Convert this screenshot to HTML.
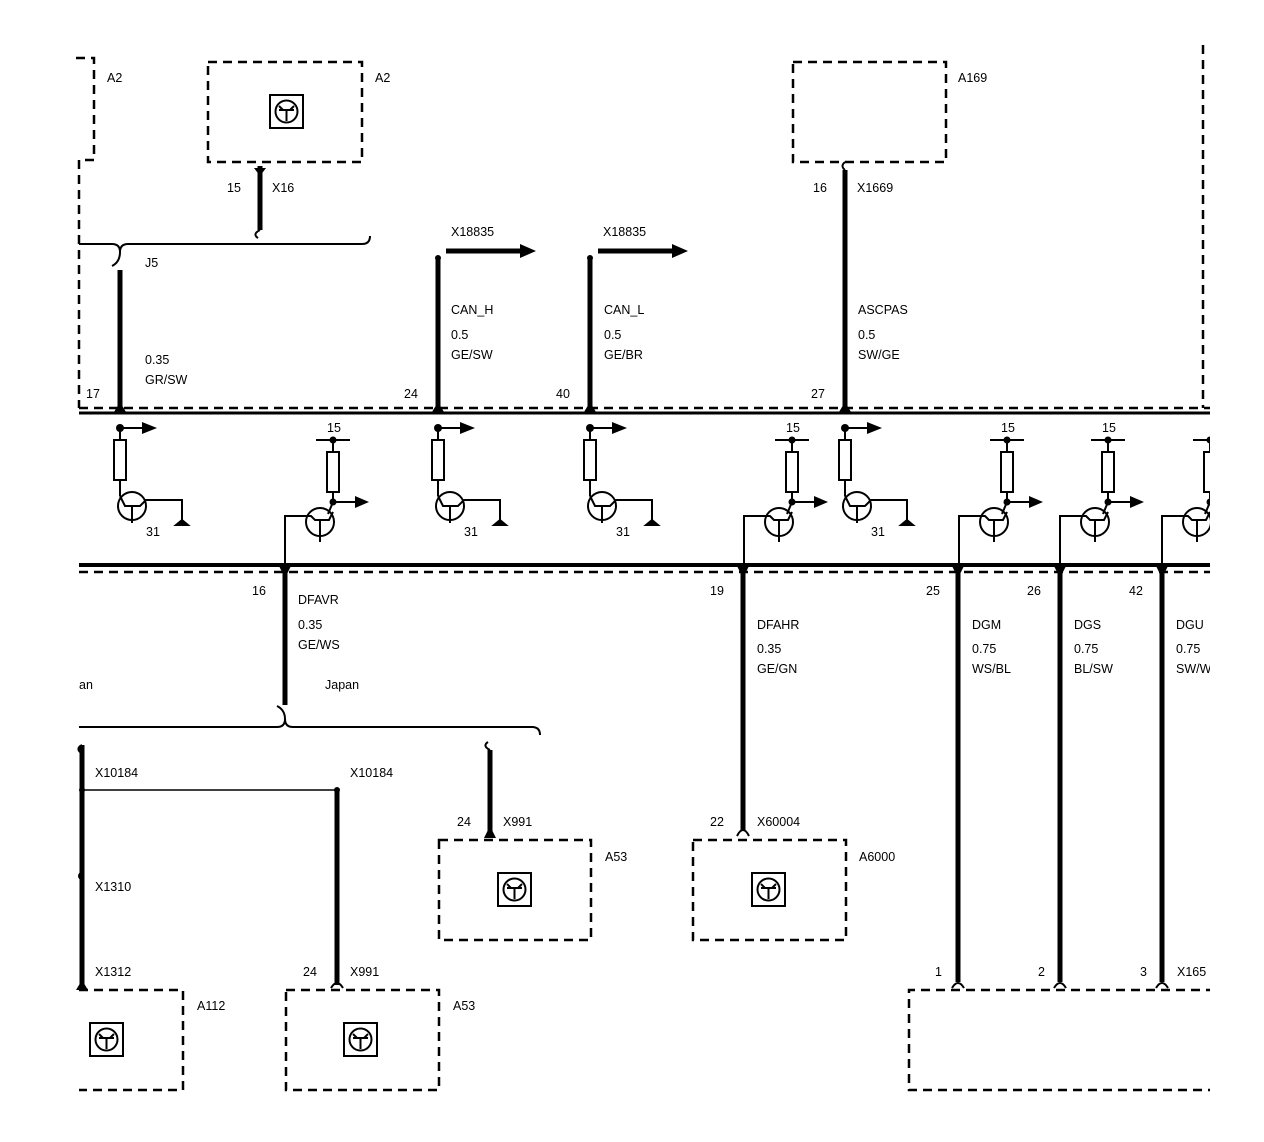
<!DOCTYPE html>
<html><head><style>
html,body{margin:0;padding:0;background:#fff;}
svg{display:block;}
text{font-family:"Liberation Sans",sans-serif;font-size:12.5px;fill:#000;}
</style></head><body>
<svg width="1264" height="1142" viewBox="0 0 1264 1142" xmlns="http://www.w3.org/2000/svg">
<defs>
<clipPath id="c"><rect x="0" y="0" width="1210" height="1142"/></clipPath>
<g id="icon">
<rect x="0" y="0" width="33" height="33" fill="none" stroke="#000" stroke-width="2"/>
<circle cx="16.5" cy="16.5" r="11" fill="none" stroke="#000" stroke-width="2"/>
<path d="M9 15 H24 M13 15 L9 11 M20 15 L24 11 M16.5 15 V26" stroke="#000" stroke-width="2" fill="none"/>
</g>
<g id="tA">
<circle cx="0" cy="0" r="4" fill="#000"/>
<path d="M0 0 H22" stroke="#000" stroke-width="2"/>
<path d="M22 -6 L37 0 L22 6 Z" fill="#000"/>
<path d="M0 0 V12" stroke="#000" stroke-width="2"/>
<rect x="-6" y="12" width="12" height="40" fill="none" stroke="#000" stroke-width="2"/>
<path d="M0 52 V68" stroke="#000" stroke-width="2"/>
<circle cx="12" cy="78" r="14" fill="none" stroke="#000" stroke-width="2"/>
<path d="M0 68 L5 78 H20 L26 72 H62 V96 M12 78 V95" stroke="#000" stroke-width="2" fill="none"/>
<path d="M56 97 H68 L62 92 Z" fill="#000" stroke="#000" stroke-width="2"/>
</g>
<g id="tB">
<path d="M-17 0 H17" stroke="#000" stroke-width="2"/>
<circle cx="0" cy="0" r="3.5" fill="#000"/>
<path d="M0 0 V12" stroke="#000" stroke-width="2"/>
<rect x="-6" y="12" width="12" height="40" fill="none" stroke="#000" stroke-width="2"/>
<path d="M0 52 V62" stroke="#000" stroke-width="2"/>
<circle cx="0" cy="62" r="3.5" fill="#000"/>
<path d="M0 62 H22" stroke="#000" stroke-width="2"/>
<path d="M22 56 L36 62 L22 68 Z" fill="#000"/>
<path d="M0 62 L-5 74" stroke="#000" stroke-width="2"/>
<circle cx="-13" cy="82" r="14" fill="none" stroke="#000" stroke-width="2"/>
<path d="M-48 133 V76 H-22 L-18 80 H-4 L0 72 M-13 80 V102" stroke="#000" stroke-width="2" fill="none"/>
</g>
</defs>
<g clip-path="url(#c)" stroke-linecap="butt">
<g fill="none" stroke="#000" stroke-width="2.5" stroke-dasharray="9,6">
<path d="M76 58 H94 V160 H79 V408"/>
<rect x="208" y="62" width="154" height="100"/>
<rect x="793" y="62" width="153" height="100"/>
<path d="M1203 45 V408"/>
<path d="M79 408 H1210"/>
<path d="M79 572 H1210"/>
<rect x="439" y="840" width="152" height="100"/>
<rect x="693" y="840" width="153" height="100"/>
<path d="M79 990 H183 V1090 H79"/>
<rect x="286" y="990" width="153" height="100"/>
<path d="M1215 990 H909 V1090 H1215"/>
</g>
<path d="M79 413 H1210" stroke="#000" stroke-width="3"/>
<path d="M79 565 H1210" stroke="#000" stroke-width="4"/>
<use href="#icon" x="270" y="95"/>
<use href="#icon" x="498" y="873"/>
<use href="#icon" x="752" y="873"/>
<use href="#icon" x="90" y="1023"/>
<use href="#icon" x="344" y="1023"/>
<g stroke="#000" stroke-width="5" fill="none">
<path d="M260 166 V230"/>
<path d="M120 270 V406"/>
<path d="M845 170 V406"/>
<path d="M438 258 V406"/>
<path d="M590 258 V406"/>
<path d="M285 572 V705"/>
<path d="M743 572 V830"/>
<path d="M958 572 V982"/>
<path d="M1060 572 V982"/>
<path d="M1162 572 V982"/>
<path d="M82 745 V985"/>
<path d="M337 790 V985"/>
<path d="M490 750 V835"/>
<path d="M446 251 H522"/>
<path d="M598 251 H674"/>
</g>
<path d="M520 244 L536 251 L520 258 Z M672 244 L688 251 L672 258 Z" fill="#000"/>
<circle cx="438" cy="258" r="3" fill="#000"/><circle cx="590" cy="258" r="3" fill="#000"/>
<circle cx="82" cy="790" r="3" fill="#000"/><circle cx="337" cy="790" r="3" fill="#000"/>
<path d="M82 790 H337" stroke="#000" stroke-width="1.5"/>
<g stroke="#000" stroke-width="2" fill="none">
<path d="M79 244 H112 Q120 244 120 252 Q120 262 112 266 M120 252 Q120 244 128 244 H362 Q370 244 370 236"/>
<path d="M260 230 Q252 234 258 238"/>
<path d="M79 727 H277 Q285 727 285 719 Q285 710 277 706 M285 719 Q285 727 293 727 H532 Q540 727 540 735"/>
<path d="M490 750 Q482 746 488 742"/>
<path d="M82 745 Q76 748 80 752"/>
<path d="M82 872 Q76 876 82 880"/>
<path d="M845 170 Q840 166 845 162"/>
</g>
<g fill="#000">
<path d="M114 412 L120 402 L126 412 Z"/>
<path d="M432 412 L438 402 L444 412 Z"/>
<path d="M584 412 L590 402 L596 412 Z"/>
<path d="M839 412 L845 402 L851 412 Z"/>
<path d="M279 566 L285 578 L291 566 Z"/>
<path d="M737 566 L743 578 L749 566 Z"/>
<path d="M952 566 L958 578 L964 566 Z"/>
<path d="M1054 566 L1060 578 L1066 566 Z"/>
<path d="M1156 566 L1162 578 L1168 566 Z"/>
<path d="M484 838 L490 826 L496 838 Z"/>
<path d="M76 990 L82 980 L88 990 Z"/>
<path d="M254 168 L260 176 L266 168 Z"/>
</g>
<g stroke="#000" stroke-width="2" fill="none">
<path d="M737 836 Q743 824 749 836"/>
<path d="M331 988 Q337 978 343 988"/>
<path d="M952 988 Q958 978 964 988"/>
<path d="M1054 988 Q1060 978 1066 988"/>
<path d="M1156 988 Q1162 978 1168 988"/>
</g>
<use href="#tA" x="120" y="428"/>
<use href="#tA" x="438" y="428"/>
<use href="#tA" x="590" y="428"/>
<use href="#tA" x="845" y="428"/>
<use href="#tB" x="333" y="440"/>
<use href="#tB" x="792" y="440"/>
<use href="#tB" x="1007" y="440"/>
<use href="#tB" x="1108" y="440"/>
<use href="#tB" x="1210" y="440"/>
<text x="107" y="82">A2</text>
<text x="375" y="82">A2</text>
<text x="958" y="82">A169</text>
<text x="227" y="192">15</text><text x="272" y="192">X16</text>
<text x="813" y="192">16</text><text x="857" y="192">X1669</text>
<text x="145" y="267">J5</text>
<text x="145" y="364">0.35</text><text x="145" y="384">GR/SW</text>
<text x="86" y="398">17</text><text x="404" y="398">24</text><text x="556" y="398">40</text><text x="811" y="398">27</text>
<text x="451" y="236">X18835</text><text x="603" y="236">X18835</text>
<text x="451" y="314">CAN_H</text><text x="451" y="339">0.5</text><text x="451" y="359">GE/SW</text>
<text x="604" y="314">CAN_L</text><text x="604" y="339">0.5</text><text x="604" y="359">GE/BR</text>
<text x="858" y="314">ASCPAS</text><text x="858" y="339">0.5</text><text x="858" y="359">SW/GE</text>
<text x="146" y="536">31</text><text x="464" y="536">31</text><text x="616" y="536">31</text><text x="871" y="536">31</text>
<text x="327" y="432">15</text><text x="786" y="432">15</text><text x="1001" y="432">15</text><text x="1102" y="432">15</text>
<text x="252" y="595">16</text><text x="298" y="604">DFAVR</text><text x="298" y="629">0.35</text><text x="298" y="649">GE/WS</text>
<text x="710" y="595">19</text><text x="757" y="629">DFAHR</text><text x="757" y="653">0.35</text><text x="757" y="673">GE/GN</text>
<text x="926" y="595">25</text><text x="972" y="629">DGM</text><text x="972" y="653">0.75</text><text x="972" y="673">WS/BL</text>
<text x="1027" y="595">26</text><text x="1074" y="629">DGS</text><text x="1074" y="653">0.75</text><text x="1074" y="673">BL/SW</text>
<text x="1129" y="595">42</text><text x="1176" y="629">DGU</text><text x="1176" y="653">0.75</text><text x="1176" y="673">SW/W</text>
<text x="79" y="689">an</text><text x="325" y="689">Japan</text>
<text x="95" y="777">X10184</text><text x="350" y="777">X10184</text>
<text x="457" y="826">24</text><text x="503" y="826">X991</text>
<text x="710" y="826">22</text><text x="757" y="826">X60004</text>
<text x="605" y="861">A53</text><text x="859" y="861">A6000</text>
<text x="95" y="891">X1310</text>
<text x="95" y="976">X1312</text><text x="303" y="976">24</text><text x="350" y="976">X991</text>
<text x="935" y="976">1</text><text x="1038" y="976">2</text><text x="1140" y="976">3</text><text x="1177" y="976">X165</text>
<text x="197" y="1010">A112</text><text x="453" y="1010">A53</text>
</g>
</svg>
</body></html>
